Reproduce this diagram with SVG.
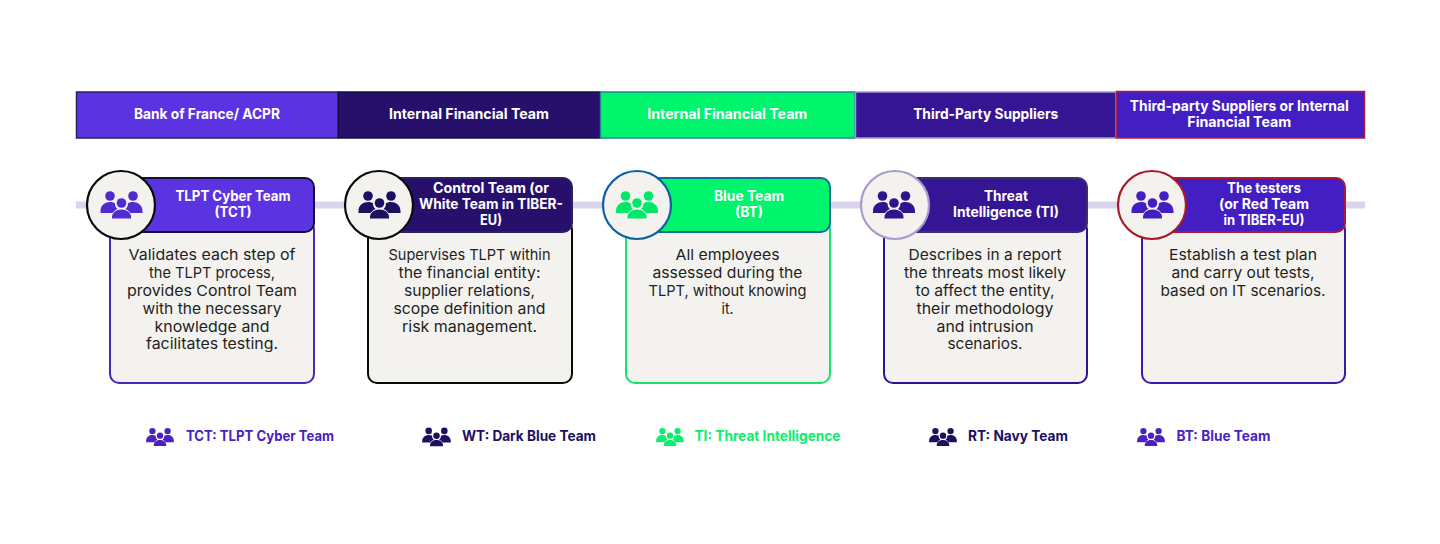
<svg xmlns="http://www.w3.org/2000/svg" width="1440" height="544" viewBox="0 0 1440 544">
<style>
text{font-family:"Inter","Liberation Sans",sans-serif;text-anchor:middle}
.h{font-size:14px;font-weight:700;fill:#fff}
.b{font-size:15px;font-weight:400;fill:#1f1f1f}
.l{font-size:14px;font-weight:700;text-anchor:start}
.body{fill:#f3f2ee;stroke-width:2}
.hd{stroke-width:2}
.c{fill:#f3f2ee;stroke-width:2.200}
.bar{stroke-width:1.500}
</style>
<defs>
<g id="icon" fill="currentColor">
<circle cx="-11.500" cy="-9" r="4.800"/><circle cx="11.500" cy="-9" r="4.800"/><circle cx="0" cy="-2" r="4.800"/>
<path d="M-21 6C-21 0-16-3-11.500-3C-9.500-3-8-2.700-6.500-1.800C-6.500 1-5.500 3-4 4C-6 5-8 6.500-9 8H-21Z"/>
<path d="M21 6C21 0 16-3 11.500-3C9.500-3 8-2.700 6.500-1.800C6.500 1 5.500 3 4 4C6 5 8 6.500 9 8H21Z"/>
<path d="M-9.500 13.500V12C-9.500 7.500-5 4.500 0 4.500C5 4.500 9.500 7.500 9.500 12V13.500Z"/>
</g>
</defs>
<g id="timeline"><rect x="76" y="201.500" width="1289" height="7" fill="#dcd3ec"/></g>
<g id="top-bars">
<g id="bar-1"><rect class="bar" x="76.500" y="92" width="261.500" height="46" fill="#5c33e0" stroke="#2a2260"/><text class="h" x="207" y="119" textLength="146" lengthAdjust="spacingAndGlyphs">Bank of France/ ACPR</text></g>
<g id="bar-2"><rect class="bar" x="338.500" y="92" width="261.500" height="46" fill="#26106c" stroke="#1a1040"/><text class="h" x="469" y="119" textLength="160" lengthAdjust="spacingAndGlyphs">Internal Financial Team</text></g>
<g id="bar-3"><rect class="bar" x="600.500" y="92" width="254.500" height="46" fill="#00f46c" stroke="#1b8a96"/><text class="h" x="727.300" y="119" textLength="160" lengthAdjust="spacingAndGlyphs">Internal Financial Team</text></g>
<g id="bar-4"><rect class="bar" x="855.500" y="92" width="260.500" height="46" fill="#351594" stroke="#a995cf"/><text class="h" x="985.700" y="119" textLength="145" lengthAdjust="spacingAndGlyphs">Third-Party Suppliers</text></g>
<g id="bar-5"><rect class="bar" x="1116.500" y="91.500" width="248" height="46.500" fill="#431ec2" stroke="#b01a3c"/><text class="h" x="1239.300" y="111" textLength="219" lengthAdjust="spacingAndGlyphs">Third-party Suppliers or Internal</text><text class="h" x="1239.300" y="127" textLength="104" lengthAdjust="spacingAndGlyphs">Financial Team</text></g>
</g>
<g id="node-tct" color="#4f2bd0">
<rect class="body" x="110" y="220" width="204" height="163" rx="9" stroke="#4a26b8"/>
<rect class="hd" x="130" y="178" width="184" height="54" rx="9" fill="#5c33e0" stroke="#15103a"/>
<circle class="c" cx="121" cy="205" r="34" stroke="#0a0a0a"/>
<use href="#icon" x="121.500" y="205"/>
<text class="h" x="233" y="201" textLength="115" lengthAdjust="spacingAndGlyphs">TLPT Cyber Team</text><text class="h" x="233" y="217" textLength="37" lengthAdjust="spacingAndGlyphs">(TCT)</text>
<text class="b" x="212" y="260" textLength="167" lengthAdjust="spacingAndGlyphs">Validates each step of</text><text class="b" x="212" y="278" textLength="126" lengthAdjust="spacingAndGlyphs">the TLPT process,</text><text class="b" x="212" y="296" textLength="170" lengthAdjust="spacingAndGlyphs">provides Control Team</text><text class="b" x="212" y="313.500" textLength="139" lengthAdjust="spacingAndGlyphs">with the necessary</text><text class="b" x="212" y="331.500" textLength="115" lengthAdjust="spacingAndGlyphs">knowledge and</text><text class="b" x="212" y="349" textLength="132" lengthAdjust="spacingAndGlyphs">facilitates testing.</text>
</g>
<g id="node-wt" color="#1d1060">
<rect class="body" x="368" y="220" width="204" height="163" rx="9" stroke="#0a0a0a"/>
<rect class="hd" x="388" y="178" width="184" height="54" rx="9" fill="#26106c" stroke="#2c2060"/>
<circle class="c" cx="379" cy="205" r="34" stroke="#0a0a0a"/>
<use href="#icon" x="379.500" y="205"/>
<text class="h" x="491" y="193" textLength="116" lengthAdjust="spacingAndGlyphs">Control Team (or</text><text class="h" x="491" y="209" textLength="144" lengthAdjust="spacingAndGlyphs">White Team in TIBER-</text><text class="h" x="491" y="225" textLength="22" lengthAdjust="spacingAndGlyphs">EU)</text>
<text class="b" x="469.500" y="260" textLength="162" lengthAdjust="spacingAndGlyphs">Supervises TLPT within</text><text class="b" x="469.500" y="278" textLength="142" lengthAdjust="spacingAndGlyphs">the financial entity:</text><text class="b" x="469.500" y="296" textLength="131" lengthAdjust="spacingAndGlyphs">supplier relations,</text><text class="b" x="469.500" y="313.500" textLength="152" lengthAdjust="spacingAndGlyphs">scope definition and</text><text class="b" x="469.500" y="331.500" textLength="135" lengthAdjust="spacingAndGlyphs">risk management.</text>
</g>
<g id="node-bt" color="#00e86a">
<rect class="body" x="626" y="220" width="204" height="163" rx="9" stroke="#16e070"/>
<rect class="hd" x="646" y="178" width="184" height="54" rx="9" fill="#00f46c" stroke="#0f6e9a"/>
<circle class="c" cx="637" cy="205" r="34" stroke="#0f5fa0"/>
<use href="#icon" x="637" y="205"/>
<text class="h" x="749" y="201" textLength="70" lengthAdjust="spacingAndGlyphs">Blue Team</text><text class="h" x="749" y="217" textLength="28" lengthAdjust="spacingAndGlyphs">(BT)</text>
<text class="b" x="727.500" y="260" textLength="104" lengthAdjust="spacingAndGlyphs">All employees</text><text class="b" x="727.500" y="278" textLength="150" lengthAdjust="spacingAndGlyphs">assessed during the</text><text class="b" x="727.500" y="296" textLength="158" lengthAdjust="spacingAndGlyphs">TLPT, without knowing</text><text class="b" x="727.500" y="313.500" textLength="12" lengthAdjust="spacingAndGlyphs">it.</text>
</g>
<g id="node-ti" color="#2e1590">
<rect class="body" x="884" y="220" width="203" height="163" rx="9" stroke="#2e1590"/>
<rect class="hd" x="904" y="178" width="183" height="54" rx="9" fill="#351594" stroke="#3a3070"/>
<circle class="c" cx="895" cy="205" r="34" stroke="#ac98cf"/>
<use href="#icon" x="894" y="205"/>
<text class="h" x="1006" y="201" textLength="44" lengthAdjust="spacingAndGlyphs">Threat</text><text class="h" x="1006" y="217" textLength="106" lengthAdjust="spacingAndGlyphs">Intelligence (TI)</text>
<text class="b" x="985" y="260" textLength="153" lengthAdjust="spacingAndGlyphs">Describes in a report</text><text class="b" x="985" y="278" textLength="162" lengthAdjust="spacingAndGlyphs">the threats most likely</text><text class="b" x="985" y="296" textLength="139" lengthAdjust="spacingAndGlyphs">to affect the entity,</text><text class="b" x="985" y="313.500" textLength="137" lengthAdjust="spacingAndGlyphs">their methodology</text><text class="b" x="985" y="331.500" textLength="97" lengthAdjust="spacingAndGlyphs">and intrusion</text><text class="b" x="985" y="349" textLength="75" lengthAdjust="spacingAndGlyphs">scenarios.</text>
</g>
<g id="node-rt" color="#431ec2">
<rect class="body" x="1142" y="220" width="203" height="163" rx="9" stroke="#3a1aa8"/>
<rect class="hd" x="1162" y="178" width="183" height="54" rx="9" fill="#431ec2" stroke="#a81a35"/>
<circle class="c" cx="1152" cy="205" r="34" stroke="#a81a28"/>
<use href="#icon" x="1152.500" y="205"/>
<text class="h" x="1264" y="193" textLength="74" lengthAdjust="spacingAndGlyphs">The testers</text><text class="h" x="1264" y="209" textLength="90" lengthAdjust="spacingAndGlyphs">(or Red Team</text><text class="h" x="1264" y="225" textLength="81" lengthAdjust="spacingAndGlyphs">in TIBER-EU)</text>
<text class="b" x="1243" y="260" textLength="148" lengthAdjust="spacingAndGlyphs">Establish a test plan</text><text class="b" x="1243" y="278" textLength="143" lengthAdjust="spacingAndGlyphs">and carry out tests,</text><text class="b" x="1243" y="296" textLength="165" lengthAdjust="spacingAndGlyphs">based on IT scenarios.</text>
</g>
<g id="legend-tct" color="#4a22c0"><use href="#icon" transform="translate(160 437) scale(.66)"/><text class="l" x="186" y="441" fill="#4a22c0" textLength="148" lengthAdjust="spacingAndGlyphs">TCT: TLPT Cyber Team</text></g>
<g id="legend-wt" color="#1d1060"><use href="#icon" transform="translate(436.500 437) scale(.68)"/><text class="l" x="462" y="441" fill="#1d1060" textLength="134" lengthAdjust="spacingAndGlyphs">WT: Dark Blue Team</text></g>
<g id="legend-ti" color="#0bee6e"><use href="#icon" transform="translate(670 437) scale(.66)"/><text class="l" x="694.500" y="441" fill="#0bee6e" textLength="146" lengthAdjust="spacingAndGlyphs">TI: Threat Intelligence</text></g>
<g id="legend-rt" color="#1d1060"><use href="#icon" transform="translate(943 437) scale(.66)"/><text class="l" x="968" y="441" fill="#1d1060" textLength="100" lengthAdjust="spacingAndGlyphs">RT: Navy Team</text></g>
<g id="legend-bt" color="#4a22c0"><use href="#icon" transform="translate(1151 437) scale(.66)"/><text class="l" x="1176.500" y="441" fill="#4a22c0" textLength="94" lengthAdjust="spacingAndGlyphs">BT: Blue Team</text></g>
</svg>
